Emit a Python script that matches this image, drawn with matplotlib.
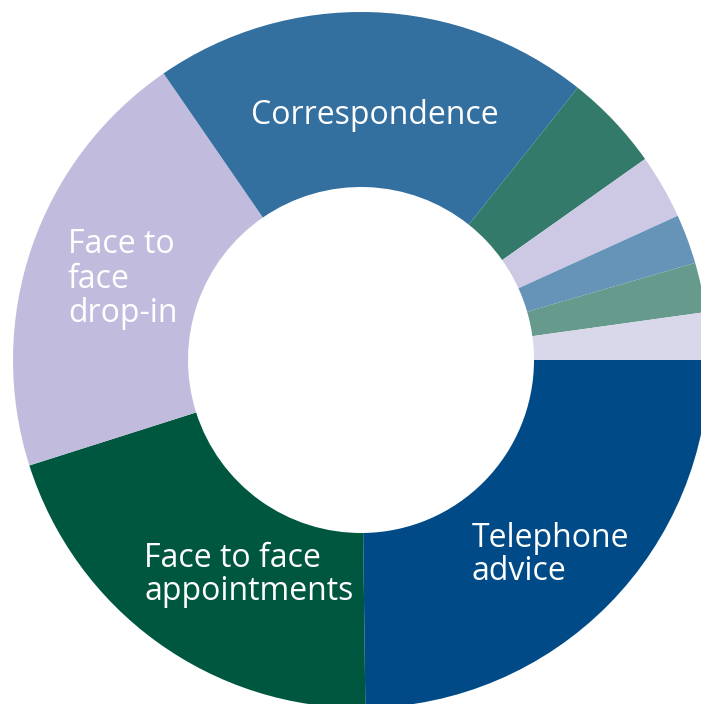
import matplotlib
matplotlib.use("Agg")
import matplotlib.pyplot as plt

# Share of contacts by channel, drawn clockwise from 3 o'clock
channels = [
    "Telephone advice",
    "Face to face appointments",
    "Face to face drop-in",
    "Correspondence",
    "Other 1",
    "Other 2",
    "Other 3",
    "Other 4",
    "Other 5",
]
shares = [24.8, 20.3, 20.3, 20.3, 4.5, 3.0, 2.3, 2.3, 2.2]
colors = [
    "#004B87", "#00573F", "#C1BCDD", "#336F9F",
    "#337A6A", "#CDC9E5", "#6694B8", "#669A8C", "#D9D7EA",
]

# Label lines shown inside the four large segments
label_lines = {
    "Correspondence": ["Correspondence"],
    "Face to face drop-in": ["Face to", "face", "drop-in"],
    "Face to face appointments": ["Face to face", "appointments"],
    "Telephone advice": ["Telephone", "advice"],
}

W, H = 701, 704
fig = plt.figure(figsize=(W / 100, H / 100), dpi=100)
ax = fig.add_axes([0, 0, 1, 1])

cx, cy = 361, H - 360
outer_r = 348
ax.pie(
    shares,
    colors=colors,
    startangle=0,
    counterclock=False,
    center=(cx, cy),
    radius=outer_r,
    wedgeprops=dict(width=outer_r - 173, linewidth=0),
    frame=True,
)
ax.set_xlim(0, W)
ax.set_ylim(0, H)
ax.set_aspect("equal")
ax.axis("off")

# anchor (left x, first baseline y in pixel rows from top), line step
placements = {
    "Correspondence": (251, 124, 0),
    "Face to face drop-in": (68, 253, 34.7),
    "Face to face appointments": (144, 567, 33.5),
    "Telephone advice": (471.5, 547, 33.5),
}

for name, lines in label_lines.items():
    x0, y0, step = placements[name]
    for i, line in enumerate(lines):
        ax.text(
            x0, H - (y0 + i * step), line,
            color="white", fontsize=23, family="Open Sans",
            ha="left", va="baseline",
        )

fig.savefig("out.png", dpi=100)
